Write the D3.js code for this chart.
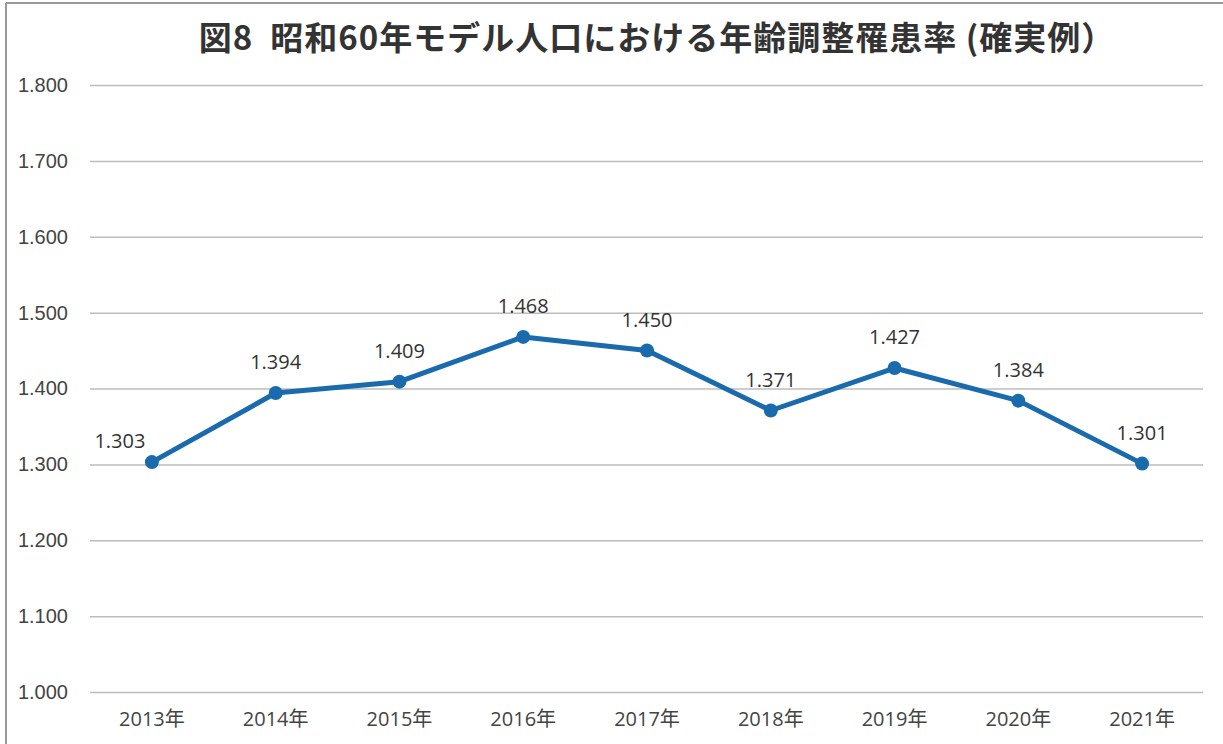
<!DOCTYPE html>
<html>
<head>
<meta charset="utf-8">
<script src="https://cdn.jsdelivr.net/npm/d3@7"></script>
<style>
  body { margin: 0; background: #fff; }
  svg { display: block; font-family: "Open Sans", "Noto Sans CJK JP", sans-serif; }
</style>
</head>
<body>
<svg id="chart" width="1223" height="744"></svg>
<script>
const titleText = "図8  昭和60年モデル人口における年齢調整罹患率 (確実例）";
const years = ["2013年", "2014年", "2015年", "2016年", "2017年", "2018年", "2019年", "2020年", "2021年"];
const rates = [1.303, 1.394, 1.409, 1.468, 1.450, 1.371, 1.427, 1.384, 1.301];
const yTicks = [1.0, 1.1, 1.2, 1.3, 1.4, 1.5, 1.6, 1.7, 1.8];

const svg = d3.select("#chart");
const margin = { top: 85, right: 20, bottom: 53, left: 90 },
      width = 1223 - margin.left - margin.right,
      height = 744 - margin.top - margin.bottom;

// frame edges
svg.append("line").attr("x1", 6).attr("x2", 6).attr("y1", 3).attr("y2", 744)
    .attr("stroke", "#999").attr("stroke-width", 2);
svg.append("line").attr("x1", 6).attr("x2", 1223).attr("y1", 3).attr("y2", 3)
    .attr("stroke", "#999").attr("stroke-width", 2);

svg.append("text")
    .attr("x", 657)
    .attr("y", 50)
    .attr("text-anchor", "middle")
    .attr("font-family", "'Noto Sans CJK JP', sans-serif")
    .attr("font-size", 33)
    .attr("font-weight", "bold")
    .attr("letter-spacing", 1)
    .attr("fill", "#333")
    .style("white-space", "pre")
    .text(titleText);

const x = d3.scaleBand()
    .domain(years)
    .range([0, width + 1]);

const y = d3.scaleLinear()
    .domain([1.0, 1.8])
    .range([height + 1, 0]);

const g = svg.append("g")
    .attr("transform", `translate(${margin.left},${margin.top})`);

// gridlines + y labels
g.append("g")
    .call(d3.axisLeft(y).tickValues(yTicks).tickSize(-width).tickFormat(d3.format(".3f")).tickPadding(22))
    .call(a => a.select(".domain").remove())
    .call(a => a.selectAll(".tick line").attr("stroke", "#bdbdbd").attr("stroke-width", 1.5))
    .call(a => a.selectAll(".tick text")
        .attr("font-size", 20).attr("fill", "#444").attr("x", -22));

// x labels
g.append("g")
    .attr("transform", `translate(0,${height + 1})`)
    .call(d3.axisBottom(x).tickSize(0).tickPadding(20))
    .call(a => a.select(".domain").remove())
    .call(a => a.selectAll(".tick text")
        .attr("font-family", "'Open Sans', 'Noto Sans CJK JP', sans-serif")
        .attr("font-size", 20).attr("fill", "#444"));

const data = years.map((yr, i) => ({ year: yr, value: rates[i] }));

const line = d3.line()
    .x(d => x(d.year) + x.bandwidth() / 2)
    .y(d => y(d.value));

g.append("path")
    .datum(data)
    .attr("fill", "none")
    .attr("stroke", "#1a6aae")
    .attr("stroke-width", 5)
    .attr("stroke-linejoin", "round")
    .attr("d", line);

g.selectAll(".dot")
    .data(data)
    .enter().append("circle")
    .attr("class", "dot")
    .attr("cx", d => x(d.year) + x.bandwidth() / 2)
    .attr("cy", d => y(d.value))
    .attr("r", 7)
    .attr("fill", "#1a6aae");

g.selectAll(".lbl")
    .data(data)
    .enter().append("text")
    .attr("class", "lbl")
    .attr("x", (d, i) => x(d.year) + x.bandwidth() / 2 + (i === 0 ? -32 : 0))
    .attr("y", (d, i) => y(d.value) - (i === 0 ? 14 : 24))
    .attr("text-anchor", "middle")
    .attr("font-size", 20)
    .attr("fill", "#333")
    .text(d => d.value.toFixed(3));
</script>
</body>
</html>
